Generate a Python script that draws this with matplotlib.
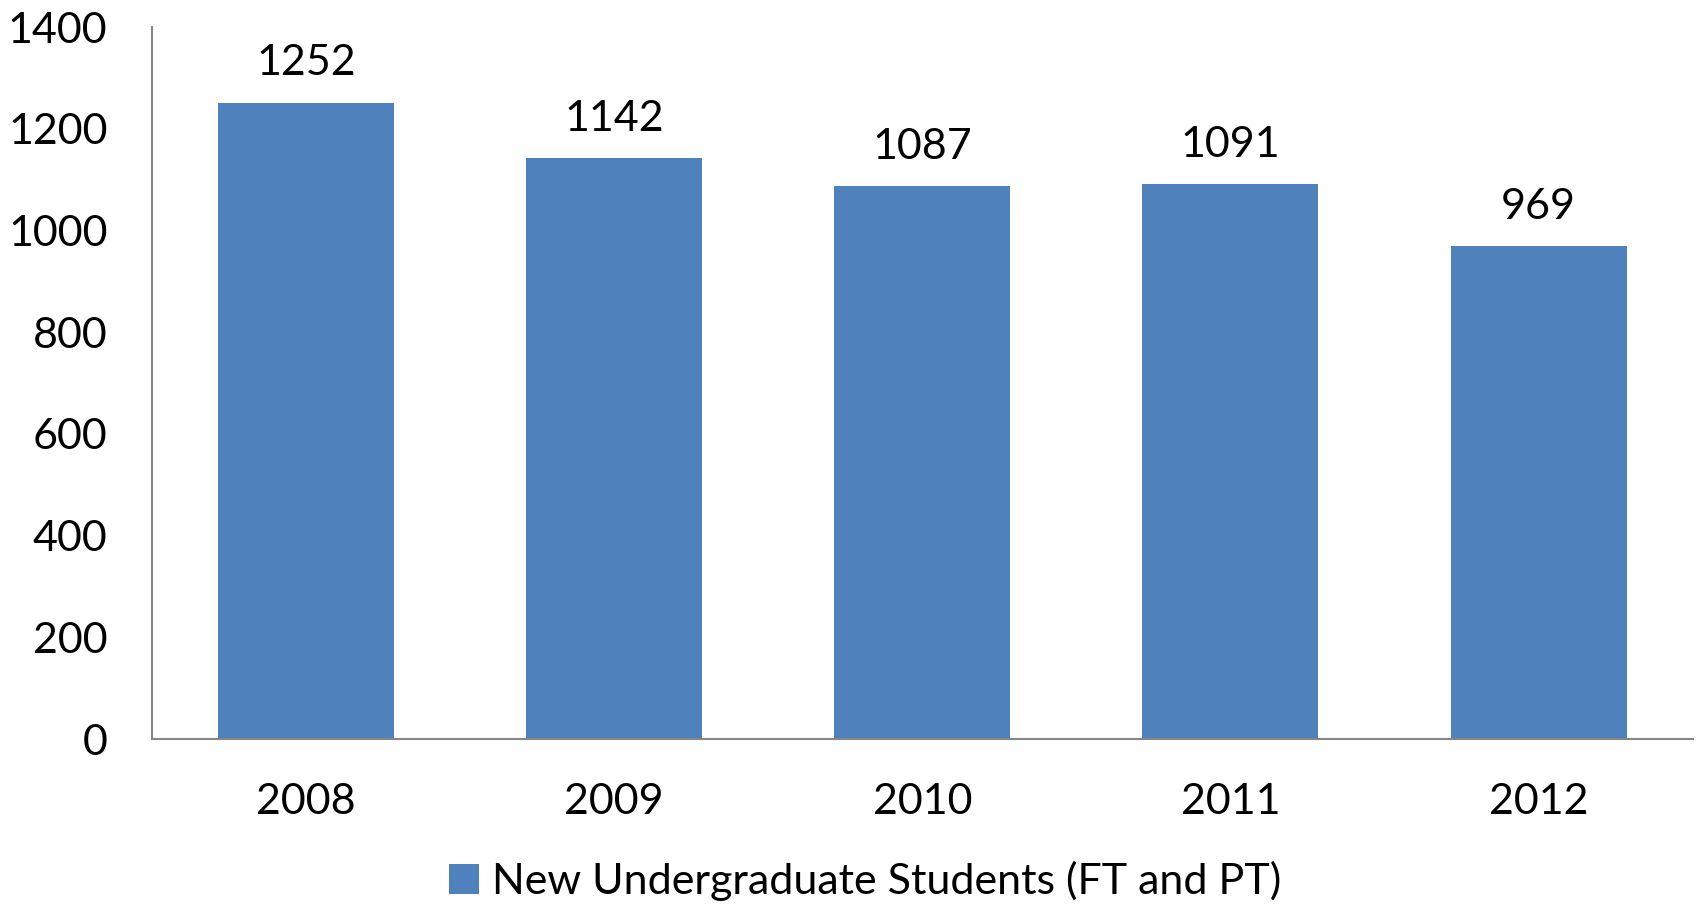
import matplotlib.pyplot as plt
from matplotlib.patches import Patch

years = ["2008", "2009", "2010", "2011", "2012"]
students = [1252, 1142, 1087, 1091, 969]
series_name = "New Undergraduate Students (FT and PT)"
y_ticks = [0, 200, 400, 600, 800, 1000, 1200, 1400]

bar_color = "#4F81BD"
axis_color = "#868686"

plt.rcParams["font.family"] = ["Lato", "DejaVu Sans"]

fig = plt.figure(figsize=(16.96, 9.09), dpi=100)
ax = fig.add_axes([0.0896, 0.187, 0.9084, 0.783])

x = range(len(years))
bars = ax.bar(x, students, width=0.571, color=bar_color)

# value labels above the bars
for xi, v in zip(x, students):
    ax.text(xi, v + 40, str(v), ha="center", va="bottom", fontsize=31)

ax.set_xlim(-0.5, len(years) - 0.5)
ax.set_ylim(0, 1400)
ax.set_yticks(y_ticks)
ax.set_yticklabels([str(t) for t in y_ticks], fontsize=31)
ax.set_xticks(list(x))
ax.set_xticklabels(years, fontsize=31)
ax.tick_params(axis="both", length=0)
ax.tick_params(axis="x", pad=32)
ax.tick_params(axis="y", pad=32)

for side in ["top", "right"]:
    ax.spines[side].set_visible(False)
for side in ["left", "bottom"]:
    ax.spines[side].set_color(axis_color)
    ax.spines[side].set_linewidth(1.5)

handle = Patch(facecolor=bar_color, edgecolor="none")
fig.legend([handle], [series_name], loc="center", bbox_to_anchor=(0.51, 0.031),
           frameon=False, fontsize=31, handlelength=0.7, handleheight=0.7,
           handletextpad=0.3)

fig.savefig("out.png", dpi=100)
